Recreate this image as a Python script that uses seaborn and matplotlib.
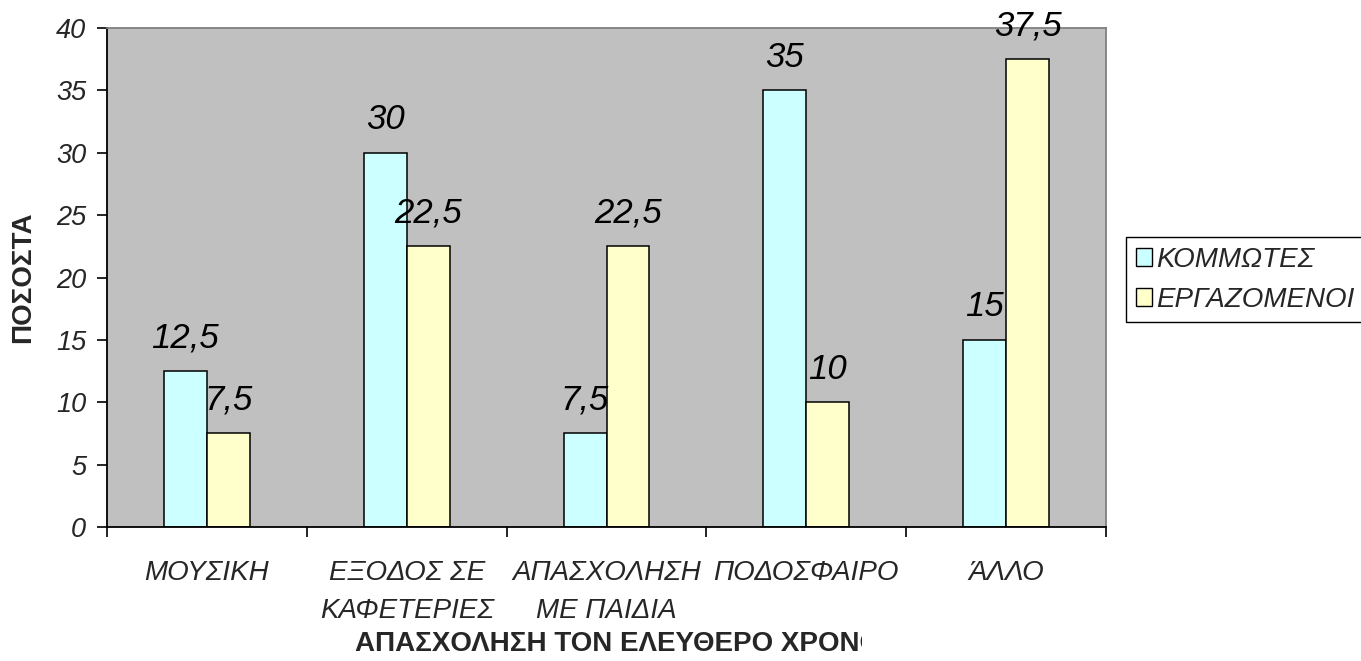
import matplotlib
matplotlib.use("Agg")
import matplotlib.pyplot as plt
import matplotlib.patches as mpatches
import pandas as pd
import seaborn as sns

categories = ["ΜΟΥΣΙΚΗ", "ΕΞΟΔΟΣ ΣΕ\nΚΑΦΕΤΕΡΙΕΣ", "ΑΠΑΣΧΟΛΗΣΗ\nΜΕ ΠΑΙΔΙΑ", "ΠΟΔΟΣΦΑΙΡΟ", "ΆΛΛΟ"]
groups = ["ΚΟΜΜΩΤΕΣ", "ΕΡΓΑΖΟΜΕΝΟΙ"]
kommwtes = [12.5, 30, 7.5, 35, 15]
ergazomenoi = [7.5, 22.5, 22.5, 10, 37.5]
yticks = [0, 5, 10, 15, 20, 25, 30, 35, 40]
colors = ["#CCFFFF", "#FFFFCC"]

df = pd.DataFrame({
    "cat": categories * 2,
    "group": [groups[0]] * 5 + [groups[1]] * 5,
    "value": kommwtes + ergazomenoi,
})

sns.set_theme(style="white")
plt.rcParams["font.family"] = ["Liberation Sans", "DejaVu Sans"]

fig = plt.figure(figsize=(13.61, 6.61), dpi=100)
ax = fig.add_axes([107 / 1361, 1 - 527 / 661, 999 / 1361, 499 / 661])
ax.set_facecolor("#C0C0C0")

sns.barplot(data=df, x="cat", y="value", hue="group", order=categories,
            hue_order=groups, palette=colors, width=0.43, gap=0,
            edgecolor="black", linewidth=1.1, saturation=1, ax=ax)
ax.get_legend().remove()

def fmt(v):
    s = "%g" % v
    return s.replace(".", ",")

for cont, vals in zip(ax.containers, [kommwtes, ergazomenoi]):
    ax.bar_label(cont, labels=[fmt(v) for v in vals], padding=12,
                 fontsize=25, fontstyle="italic", color="black")

ax.set_xlim(-0.5, 4.5)
ax.set_ylim(0, 40)
ax.set_yticks(yticks)
ax.set_yticklabels([str(t) for t in yticks], fontsize=19.5, fontstyle="italic")
ax.set_xticks(range(5))
ax.set_xticklabels(categories, fontsize=20, fontstyle="italic", linespacing=1.6,
                   va="top")
ax.set_xticks([-0.5, 0.5, 1.5, 2.5, 3.5, 4.5], minor=True)
ax.tick_params(axis="x", which="major", length=0, pad=24)
ax.tick_params(axis="x", which="minor", length=7, width=1.2, color="black",
               direction="out", bottom=True)
ax.tick_params(axis="y", length=7, width=1.2, color="black", direction="out",
               left=True, pad=8)

for side in ["left", "bottom"]:
    ax.spines[side].set_color("black")
    ax.spines[side].set_linewidth(1.3)
for side in ["top", "right"]:
    ax.spines[side].set_color("#808080")
    ax.spines[side].set_linewidth(1.3)

ax.set_xlabel("")
ax.set_ylabel("ΠΟΣΟΣΤΑ", fontsize=20, fontweight="bold", labelpad=14)

xl = fig.text(355 / 1361, 1 - 644 / 661, "ΑΠΑΣΧΟΛΗΣΗ ΤΟΝ ΕΛΕΥΘΕΡΟ ΧΡΟΝΟ",
              fontsize=20, fontweight="bold", ha="left", va="center")
clip = mpatches.Rectangle((0, 0), 862, 661, transform=None)
xl.set_clip_path(clip)
xl.set_clip_on(True)

handles = [mpatches.Patch(facecolor=c, edgecolor="black", linewidth=1.0) for c in colors]
leg = fig.legend(handles, groups, loc="upper left",
                 bbox_to_anchor=(1126 / 1361, 1 - 237 / 661),
                 prop={"size": 20, "style": "italic"}, frameon=True,
                 fancybox=False, edgecolor="black", framealpha=1,
                 handlelength=0.6, handleheight=0.6, handletextpad=0.15,
                 borderpad=0.35, labelspacing=0.5, borderaxespad=0)
leg.get_frame().set_linewidth(1.0)

fig.savefig("out.png", dpi=100)
